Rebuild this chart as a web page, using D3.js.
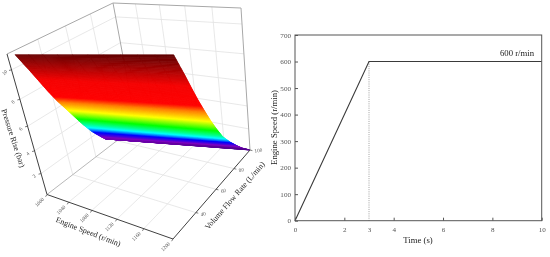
<!DOCTYPE html><html><head><meta charset="utf-8"><style>
html,body{margin:0;padding:0;background:#fff}
svg{display:block;filter:blur(0.35px)}
text{font-family:"Liberation Serif",serif}
</style></head><body><script src="https://cdn.jsdelivr.net/npm/d3@7"></script>
<svg id="c" width="550" height="257"></svg>
<script>
// ---- data ----
const speedTicks=[1000,1040,1080,1120,1160,1200];
const flowTicks=[40,60,80,100];
const pressureTicks=[2,4,6,8,10];
// surface edge samples, upper row to lower row
const flowAt1000=[24.3,29.8,33.9,37.9,42.2,47.0,51.6,56.2,61.2,67.3,70.5,72];
const pressureAt1000=[10.75,9.5,8.5,7.5,6.5,5.5,4.5,3.5,2.5,1.5,1.0,0.85];
const flowAt1200=[38.8,44.9,48.8,52.8,57.1,61.5,66.3,71.5,78.5,86.4,90.5,100];
const pressureAt1200=[10.95,9.5,8.5,7.5,6.5,5.5,4.5,3.5,2.5,1.5,1.0,0];
const colorPressure=[0,1.2,2.2,3.0,4.2,5.3,6.3,6.9,8.6,10.9];
const colorValues=["#50008c","#8000c0","#0000ff","#00ffff","#00ff00","#ffff00","#ff8000","#ff0000","#f50000","#600000"];
const timeValues=[0,3,10];
const rampSpeed=[0,600,600];
const timeTicks=[0,2,3,4,6,8,10];
const engineTicks=[0,100,200,300,400,500,600,700];

const svg=d3.select("#c");
// ---- 3D projection ----
function hom(p){const [p0,p1,p2,p3]=p;const dx1=p1[0]-p2[0],dx2=p3[0]-p2[0],sx=p0[0]-p1[0]+p2[0]-p3[0],dy1=p1[1]-p2[1],dy2=p3[1]-p2[1],sy=p0[1]-p1[1]+p2[1]-p3[1];const den=dx1*dy2-dx2*dy1,g=(sx*dy2-dx2*sy)/den,h=(dx1*sy-sx*dy1)/den,a=p1[0]-p0[0]+g*p1[0],b=p3[0]-p0[0]+h*p3[0],c=p0[0],d=p1[1]-p0[1]+g*p1[1],e=p3[1]-p0[1]+h*p3[1],f=p0[1];return(u,v)=>{const w=g*u+h*v+1;return[(a*u+b*v+c)/w,(d*u+e*v+f)/w]}}
const floorH=hom([[47,194.5],[173,239],[250,150],[136,126]]),topH=hom([[7,54],[147,72],[241,8],[113,3]]);
const su=d3.scaleLinear().domain([1000,1200]).range([0,1]);
const sv=d3.scaleLinear().domain([20,100]).range([0,1]);
const sw=d3.scaleLinear().domain([0,11]).range([0,1]);
function P(s,fl,z){const u=su(s),v=sv(fl),w=sw(z),t=w/(w+1.27*(1-w));const a=floorH(u,v),b=topH(u,v);return[a[0]+(b[0]-a[0])*t,a[1]+(b[1]-a[1])*t]}
const line=d3.line();
const g3=svg.append("g");
function seg(a,b,col,w){g3.append("path").attr("d",line([a,b])).attr("stroke",col).attr("stroke-width",w).attr("fill","none")}
const gridCol="#e2e2e2";
const SMIN=1000,SMAX=1200,FMIN=20,FMAX=100,ZMAX=11;
speedTicks.slice(1,-1).forEach(s=>{seg(P(s,FMIN,0),P(s,FMAX,0),gridCol,.8);seg(P(s,FMAX,0),P(s,FMAX,ZMAX),gridCol,.8)});
flowTicks.slice(0,-1).forEach(f=>{seg(P(SMIN,f,0),P(SMAX,f,0),gridCol,.8);seg(P(SMIN,f,0),P(SMIN,f,ZMAX),gridCol,.8)});
pressureTicks.forEach(z=>{seg(P(SMIN,FMIN,z),P(SMIN,FMAX,z),gridCol,.8);seg(P(SMIN,FMAX,z),P(SMAX,FMAX,z),gridCol,.8)});
const edgeCol="#a8a8a8";
seg(P(SMIN,FMAX,0),P(SMAX,FMAX,0),"#c8c8c8",.8);
seg(P(SMIN,FMIN,0),P(SMIN,FMAX,0),"#b0b0b0",.9);
seg(P(SMIN,FMAX,0),P(SMIN,FMAX,ZMAX),edgeCol,1);
seg(P(SMAX,FMAX,0),P(SMAX,FMAX,ZMAX),edgeCol,1);
seg(P(SMIN,FMIN,ZMAX),P(SMIN,FMAX,ZMAX),edgeCol,1);
seg(P(SMIN,FMAX,ZMAX),P(SMAX,FMAX,ZMAX),edgeCol,1);
// ---- surface ----
const color=d3.scaleLinear().domain(colorPressure).range(colorValues).clamp(true);
const rows=d3.range(flowAt1000.length-1);
const cols=d3.range(10),subs=d3.range(16);
const gs=g3.append("g");
rows.forEach(i=>subs.forEach(k=>cols.forEach(j=>{
  const corner=(jj,kk)=>{const a=kk/subs.length,b=jj/cols.length;
    const fL=flowAt1000[i]+(flowAt1000[i+1]-flowAt1000[i])*a,zL=pressureAt1000[i]+(pressureAt1000[i+1]-pressureAt1000[i])*a;
    const fR=flowAt1200[i]+(flowAt1200[i+1]-flowAt1200[i])*a,zR=pressureAt1200[i]+(pressureAt1200[i+1]-pressureAt1200[i])*a;
    return [su.invert(b),fL+(fR-fL)*b,zL+(zR-zL)*b];};
  const q=[corner(j,k),corner(j+1,k),corner(j+1,k+1),corner(j,k+1)];
  const zm=d3.mean(q,d=>d[2]);const c=color(zm);
  gs.append("path").attr("d",line(q.map(d=>P(d[0],d[1],d[2])))+"Z").attr("fill",c).attr("stroke",c).attr("stroke-width",.7).attr("stroke-linejoin","round");
})));
// ---- 3D axes ----
const axCol="#404040";
seg(P(SMIN,FMIN,0),P(SMIN,FMIN,ZMAX),axCol,1);
seg(P(SMIN,FMIN,0),P(SMAX,FMIN,0),axCol,1);
seg(P(SMAX,FMIN,0),P(SMAX,FMAX,0),axCol,1);
function lab(x,y,t,rot,size,col){g3.append("text").attr("transform",`translate(${x},${y}) rotate(${rot})`).attr("text-anchor","middle").attr("dominant-baseline","middle").attr("font-size",size).attr("fill",col).text(t)}
pressureTicks.forEach(z=>{const p=P(SMIN,FMIN,z);seg(p,[p[0]-2.5,p[1]+.6],axCol,.7);lab(p[0]-6.5,p[1]+3,z,-45,5.2,"#555")});
speedTicks.forEach(s=>{const p=P(s,FMIN,0);seg(p,[p[0]-1.4,p[1]+2.2],axCol,.7);lab(p[0]-7.2,p[1]+8,s,-45,5.2,"#555")});
flowTicks.forEach(f=>{const p=P(SMAX,f,0);seg(p,[p[0]+2.4,p[1]+.6],axCol,.7);lab(p[0]+(f===100?8.5:7.5),p[1]+(f===100?1:2),f,-10,5.2,"#555")});
lab(12.5,138.5,"Pressure Rise (bar)",72,8,"#222");
lab(88,232.5,"Engine Speed (r/min)",21,8,"#222");
lab(235.5,196,"Volume Flow Rate (L/min)",-49,8,"#222");
// ---- 2D chart ----
const x=d3.scaleLinear().domain([0,10]).range([295,541.7]);
const y=d3.scaleLinear().domain([0,700]).range([220.7,35]);
const g2=svg.append("g");
g2.append("path").attr("d",line([[x(3),y(600)],[x(3),y(0)]])).attr("stroke","#777").attr("stroke-width",.7).attr("stroke-dasharray","1 1.2").attr("fill","none");
g2.append("path").attr("d",d3.line().x((d,i)=>x(timeValues[i])).y(d=>y(d))(rampSpeed)).attr("fill","none").attr("stroke","#3a3a3a").attr("stroke-width",1.1);
g2.append("rect").attr("x",x(0)).attr("y",y(700)).attr("width",x(10)-x(0)).attr("height",y(0)-y(700)).attr("fill","none").attr("stroke","#555").attr("stroke-width",1);
const ax=g2.append("g").attr("transform",`translate(0,${y(0)})`).call(d3.axisBottom(x).tickValues(timeTicks).tickSize(-3).tickSizeOuter(0).tickFormat(d3.format("d")));
ax.select(".domain").remove();
ax.selectAll(".tick line").attr("stroke",(d)=>d===3?"none":"#555");
ax.selectAll("text").attr("y",6.5).attr("dy",0).attr("dominant-baseline","hanging").attr("font-size",7.1).attr("fill","#555").attr("font-family","Liberation Serif");
const ay=g2.append("g").attr("transform",`translate(${x(0)},0)`).call(d3.axisLeft(y).tickValues(engineTicks).tickSize(-3).tickSizeOuter(0));
ay.select(".domain").remove();
ay.selectAll(".tick line").attr("stroke","#555");
ay.selectAll("text").attr("x",-4).attr("font-size",7.1).attr("fill","#555").attr("font-family","Liberation Serif");
g2.append("text").attr("x",418).attr("y",242.7).attr("text-anchor","middle").attr("font-size",8.7).attr("fill","#222").text("Time (s)");
g2.append("text").attr("transform","translate(276.5,127.5) rotate(-90)").attr("text-anchor","middle").attr("font-size",8.7).attr("fill","#222").text("Engine Speed (r/min)");
g2.append("text").attr("x",534).attr("y",56).attr("text-anchor","end").attr("font-size",8.7).attr("fill","#222").text("600 r/min");
</script></body></html>
